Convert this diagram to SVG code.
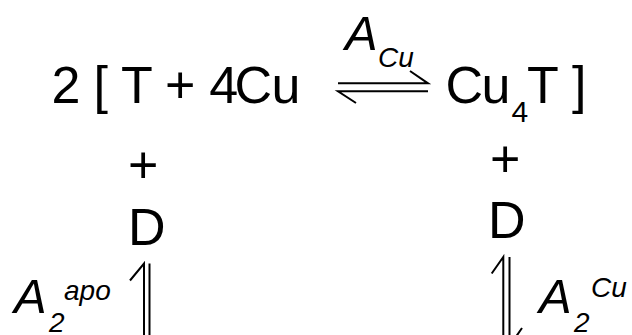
<svg xmlns="http://www.w3.org/2000/svg" width="632" height="335" viewBox="0 0 632 335">
<style>
.t{font-family:"Liberation Sans",Arial,sans-serif;fill:#000}
.m{font-size:52px}
.s{font-size:30px}
.iA{font-size:49px;font-style:italic}
.is{font-size:28px;font-style:italic}
.ln{stroke:#000;stroke-width:2;fill:none;stroke-linecap:butt}
</style>
<rect width="632" height="335" fill="#fff"/>
<g id="reactants">
<text class="t m" y="103" x="51.4 93.4 121 165 209.3 234.5 271.6">2[T+4Cu</text>
</g>
<g id="product">
<text class="t m" y="103" x="445.5 481.6">Cu</text>
<text class="t s" y="122" x="511.6">4</text>
<text class="t m" y="103" x="527 572">T]</text>
</g>
<g id="left-D">
<text class="t m" x="128" y="183">+</text>
<text class="t m" x="128" y="245">D</text>
</g>
<g id="right-D">
<text class="t m" x="490" y="177">+</text>
<text class="t m" x="488" y="238">D</text>
</g>
<g id="connectors">
<path class="ln" d="M338 83.3H428L410 71"/>
<path class="ln" d="M428 91.3H338L356 103"/>
<path class="ln" d="M144 340V263.5L130 280.5"/>
<path class="ln" d="M149.5 263.5V340"/>
<path class="ln" d="M503.3 340V257L491.7 273.5"/>
<path class="ln" d="M509.5 257V346L522 328"/>
</g>
<g id="labels">
<text class="t iA" x="345" y="50">A</text>
<text class="t is" x="378" y="67">Cu</text>
<text class="t iA" x="14" y="313">A</text>
<text class="t is" x="49" y="332">2</text>
<text class="t is" x="64" y="300">apo</text>
<text class="t iA" x="539" y="313">A</text>
<text class="t is" x="574" y="332">2</text>
<text class="t is" x="591" y="297">Cu</text>
</g>
</svg>
